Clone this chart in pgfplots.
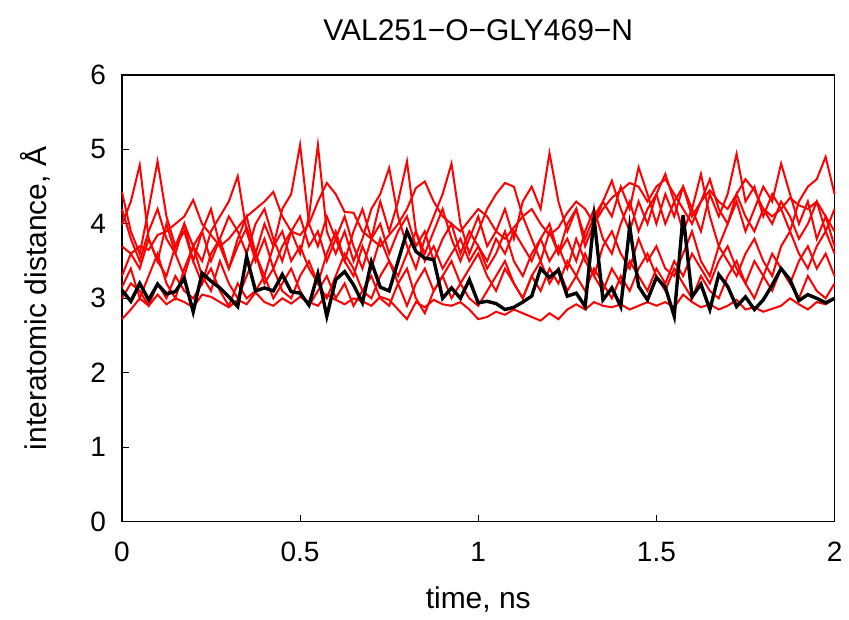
\documentclass[border=0pt]{standalone}
\usepackage{pgfplots}
\pgfplotsset{compat=1.18}
\usepackage{pgfplotstable}
\usepackage{fontspec}
\setmainfont{Liberation Sans}

\pgfplotstableread{
t b A B C D E F G H
0.000 3.11 4.43 3.99 3.70 3.30 3.15 4.20 3.00 2.72
0.025 2.96 3.90 4.30 3.60 3.60 3.40 3.80 3.20 2.85
0.050 3.20 3.60 4.79 3.70 3.40 3.00 3.50 3.10 3.00
0.075 2.98 4.20 3.80 3.65 3.80 3.30 3.90 2.90 2.90
0.100 3.19 4.84 3.50 3.85 3.50 3.60 4.20 3.20 3.05
0.125 3.06 4.10 4.00 3.90 3.30 3.20 3.80 3.00 2.92
0.150 3.09 3.70 3.60 4.00 3.70 3.00 3.60 3.30 3.00
0.175 3.27 4.00 3.30 4.10 3.90 3.40 4.00 3.10 2.95
0.200 2.82 3.50 3.70 4.32 3.50 3.70 3.70 3.00 2.88
0.225 3.34 3.90 3.50 4.00 3.20 3.30 3.90 3.20 3.05
0.250 3.23 4.20 3.90 3.85 3.60 3.10 3.50 3.40 3.02
0.275 3.14 3.70 4.10 3.70 3.80 3.50 3.80 3.10 2.95
0.300 3.02 3.40 4.30 3.80 3.40 3.20 4.10 2.90 2.88
0.325 2.89 3.80 4.64 3.95 3.70 3.00 3.90 3.20 2.98
0.350 3.56 4.10 3.90 4.10 3.95 3.30 3.60 3.00 2.92
0.375 3.10 3.60 3.50 4.20 3.60 3.60 4.00 3.10 3.08
0.400 3.14 4.00 3.80 4.30 3.30 3.20 4.20 3.30 2.95
0.425 3.10 3.70 3.40 4.43 3.70 3.40 3.80 3.00 2.90
0.450 3.32 4.20 3.70 4.10 3.90 3.10 3.50 3.20 3.00
0.475 3.09 4.40 3.90 3.90 3.50 3.00 3.90 3.40 2.93
0.500 3.07 5.06 3.60 3.85 3.70 3.30 4.10 3.10 3.02
0.525 2.91 4.00 4.10 4.00 3.40 3.50 3.70 2.90 2.95
0.550 3.33 3.70 5.06 4.30 3.20 3.20 3.90 3.10 2.90
0.575 2.76 4.10 3.90 4.55 3.60 3.00 3.50 3.30 3.05
0.600 3.25 3.80 3.60 4.40 3.90 3.30 3.80 3.00 2.98
0.625 3.36 3.50 3.90 4.16 3.50 3.60 4.10 3.20 2.92
0.650 3.18 3.90 3.50 4.15 3.30 3.40 3.70 2.90 3.00
0.675 2.94 4.20 3.80 3.90 3.70 3.10 3.40 3.10 2.96
0.700 3.49 3.80 4.20 3.80 3.40 3.00 3.80 3.30 2.90
0.725 3.15 4.30 4.40 3.70 3.80 3.30 4.00 3.00 3.02
0.750 3.10 3.90 4.75 3.85 3.50 3.50 3.60 2.90 2.98
0.775 3.50 4.30 4.10 4.00 3.30 3.20 3.90 3.20 2.85
0.800 3.90 4.84 3.70 4.20 3.60 2.90 4.10 3.40 2.72
0.825 3.63 3.90 3.40 4.48 3.90 3.20 3.70 3.00 2.95
0.850 3.54 3.60 3.80 4.57 3.50 3.40 3.90 2.80 2.88
0.875 3.52 3.90 4.10 4.30 3.70 3.10 3.50 3.10 2.98
0.900 3.00 4.20 4.40 4.10 3.40 3.30 3.80 3.30 2.92
0.925 3.14 3.80 4.81 4.00 3.60 3.50 4.00 3.00 2.90
0.950 3.00 3.50 4.00 3.90 3.80 3.20 3.60 3.20 2.95
0.975 3.25 3.80 3.60 4.05 3.50 3.40 3.90 3.00 2.85
1.000 2.94 4.10 3.90 4.20 3.70 3.60 3.70 2.90 2.72
1.025 2.96 3.70 4.20 4.10 3.40 3.30 3.50 3.10 2.75
1.050 2.93 3.90 4.40 3.90 3.60 3.10 3.80 3.30 2.82
1.075 2.85 4.20 4.55 3.80 3.90 3.40 3.60 3.50 2.78
1.100 2.88 3.80 4.50 3.95 3.50 3.20 3.90 3.20 2.85
1.125 2.95 4.30 4.10 4.10 3.30 3.00 3.70 3.00 2.80
1.150 3.03 4.50 3.80 4.20 3.60 3.30 3.50 3.30 2.75
1.175 3.40 4.20 3.50 4.00 3.80 3.50 3.80 3.10 2.70
1.200 3.28 4.95 3.90 3.85 3.50 3.20 4.00 3.40 2.80
1.225 3.38 4.30 3.60 3.95 3.70 3.40 3.60 3.20 2.72
1.250 3.03 3.90 4.00 4.15 3.40 3.10 3.80 3.50 2.85
1.275 3.07 4.20 4.20 4.30 3.80 3.30 3.50 3.30 2.92
1.300 2.89 3.70 3.80 4.20 3.50 3.60 3.90 3.10 2.85
1.325 4.08 4.00 4.10 4.00 3.30 3.30 4.20 3.40 2.95
1.350 2.98 4.30 4.30 4.20 3.70 3.10 3.80 3.20 2.90
1.375 3.14 4.10 4.58 4.35 3.90 3.40 3.60 3.00 2.88
1.400 2.89 4.50 4.20 4.45 3.60 3.20 4.00 3.30 2.92
1.425 3.96 4.20 3.90 4.55 3.40 3.50 4.30 3.10 2.85
1.450 3.16 4.76 4.30 4.50 3.80 3.30 3.90 3.40 2.90
1.475 2.98 4.40 4.00 4.30 3.50 3.10 4.20 3.60 2.95
1.500 3.28 4.00 4.40 4.50 3.70 3.40 4.40 3.30 2.90
1.525 3.15 4.40 4.67 4.60 3.40 3.20 4.00 3.10 2.95
1.550 2.76 4.10 4.30 4.40 3.30 3.50 4.30 3.40 2.88
1.575 4.12 4.50 3.90 4.20 3.60 3.30 4.50 3.20 3.05
1.600 3.02 4.20 4.20 4.00 3.90 3.60 4.10 3.00 2.95
1.625 3.19 3.90 4.67 4.30 3.50 3.40 4.30 3.30 2.88
1.650 2.85 4.40 4.10 4.45 3.30 3.20 4.60 3.10 2.92
1.675 3.32 4.10 3.70 4.30 3.70 3.50 4.20 3.00 2.85
1.700 3.16 4.40 4.00 4.20 3.50 3.70 4.00 3.30 2.90
1.725 2.89 4.94 4.30 4.40 3.30 3.40 4.40 3.50 2.98
1.750 3.02 4.30 3.90 4.60 3.60 3.20 4.10 3.20 2.85
1.775 2.85 4.50 4.20 4.45 3.80 3.50 3.90 3.00 2.88
1.800 2.98 4.10 4.50 4.20 3.50 3.30 4.20 3.30 2.82
1.825 3.18 4.40 4.30 4.10 3.30 3.60 4.00 3.10 2.86
1.850 3.40 4.20 4.81 4.20 3.70 3.40 4.30 3.40 2.90
1.875 3.25 3.90 4.40 4.35 3.90 3.20 4.10 3.20 3.00
1.900 2.97 4.30 4.00 4.25 3.60 3.50 3.80 3.00 2.92
1.925 3.05 4.50 4.30 4.20 3.40 3.70 4.00 3.30 2.85
1.950 3.00 4.60 3.80 4.30 3.70 3.40 4.30 3.10 2.95
1.975 2.94 4.90 4.10 4.10 3.90 3.60 3.90 3.00 2.92
2.000 3.00 4.40 3.70 3.90 3.60 3.30 4.20 3.20 3.00
}\data

\begin{document}
\begin{tikzpicture}
\begin{axis}[
  scale only axis, width=356.5pt, height=223.5pt,
  xmin=0, xmax=2, ymin=0, ymax=6,
  xtick={0,0.5,1,1.5,2}, ytick={0,1,2,3,4,5,6},
  tick pos=left, tick align=inside, major tick length=3.5pt,
  axis line style={line width=0.6pt, black},
  tick style={line width=0.5pt, black},
  /pgf/number format/assume math mode=true,
  ticklabel style={font=\fontsize{14}{16}\selectfont},
  xticklabel style={yshift=-6.5pt},
  yticklabel style={xshift=-4.5pt},
  xlabel={time, ns}, ylabel={interatomic distance, Å},
  title={VAL251−O−GLY469−N},
  every axis x label/.style={at={(rel axis cs:0.5,-0.1745)}, anchor=center, font=\fontsize{15}{18}\selectfont},
  every axis y label/.style={at={(rel axis cs:-0.122,0.5)}, rotate=90, anchor=center, font=\fontsize{15}{18}\selectfont},
  every axis title/.style={at={(rel axis cs:0.5,1.1007)}, anchor=center, font=\fontsize{15}{18}\selectfont},
  clip=false,
]
\path (rel axis cs:-0.1711,-0.217) rectangle (rel axis cs:1.0196,1.1678);
\foreach \c in {A,B,C,D,E,F,G,H} {
  \addplot[red, line width=1pt, line join=miter, mark=none] table[x=t, y=\c] {\data};
}
\addplot[black, line width=1.7pt, mark=none] table[x=t, y=b] {\data};
\end{axis}
\end{tikzpicture}
\end{document}
